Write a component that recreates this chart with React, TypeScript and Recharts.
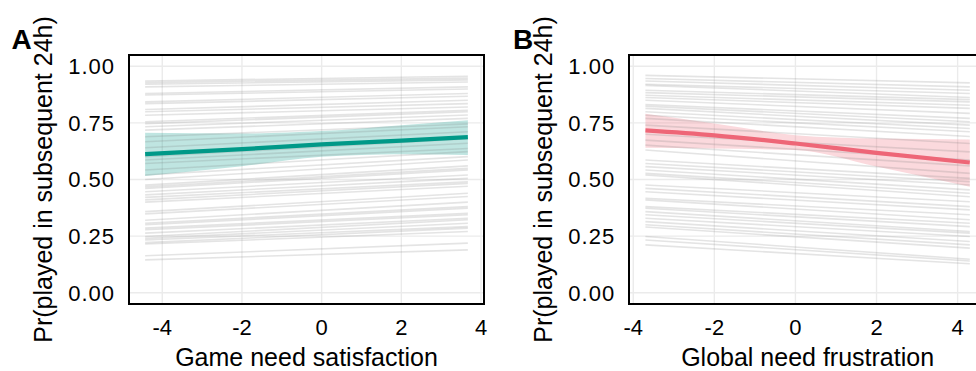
import { ComposedChart, Line, Area, XAxis, YAxis, CartesianGrid, Label } from 'recharts';

const FONT = '"Liberation Sans", Arial, Helvetica, sans-serif';

const X_TICKS = [-4, -2, 0, 2, 4];
const Y_TICKS = [0, 0.25, 0.5, 0.75, 1];

// Panel A: game need satisfaction
const satLineX = [-4.43, 3.67];
const satStart = [
  0.935, 0.928, 0.921, 0.909, 0.88, 0.873, 0.843, 0.835, 0.809, 0.799, 0.784, 0.755, 0.747, 0.733,
  0.718, 0.689, 0.667, 0.64, 0.601, 0.586, 0.571, 0.542, 0.52, 0.5, 0.475, 0.468, 0.461, 0.446,
  0.432, 0.421, 0.41, 0.4, 0.358, 0.348, 0.32, 0.307, 0.3, 0.285, 0.278, 0.263, 0.248, 0.24, 0.233,
  0.221, 0.215, 0.163, 0.145,
];
const satEnd = [
  0.956, 0.948, 0.94, 0.931, 0.909, 0.9, 0.88, 0.868, 0.85, 0.835, 0.82, 0.806, 0.799, 0.785,
  0.77, 0.745, 0.733, 0.711, 0.68, 0.66, 0.637, 0.623, 0.601, 0.586, 0.56, 0.549, 0.542, 0.52,
  0.505, 0.49, 0.483, 0.47, 0.439, 0.425, 0.4, 0.38, 0.373, 0.351, 0.344, 0.329, 0.322, 0.307,
  0.292, 0.285, 0.27, 0.219, 0.189,
];
const satFitX = [-4.43, -2, 0, 2, 3.67];
const satFit = [0.612, 0.634, 0.655, 0.672, 0.687];
const satLow = [0.515, 0.559, 0.6, 0.612, 0.608];
const satHigh = [0.706, 0.703, 0.714, 0.74, 0.762];

// Panel B: global need frustration
const fruLineX = [-3.7, 4.3];
const fruStart = [
  0.96, 0.946, 0.935, 0.921, 0.916, 0.894, 0.884, 0.872, 0.862, 0.85, 0.831, 0.824, 0.814, 0.799,
  0.784, 0.77, 0.74, 0.7, 0.674, 0.652, 0.63, 0.586, 0.571, 0.557, 0.542, 0.527, 0.52, 0.476,
  0.461, 0.446, 0.417, 0.41, 0.38, 0.373, 0.358, 0.344, 0.329, 0.314, 0.3, 0.29, 0.248, 0.233,
  0.211,
];
const fruEnd = [
  0.927, 0.909, 0.894, 0.88, 0.862, 0.853, 0.843, 0.828, 0.814, 0.792, 0.77, 0.755, 0.74, 0.725,
  0.711, 0.69, 0.659, 0.622, 0.586, 0.56, 0.527, 0.505, 0.49, 0.476, 0.454, 0.439, 0.424, 0.402,
  0.38, 0.366, 0.344, 0.322, 0.307, 0.292, 0.27, 0.263, 0.248, 0.226, 0.211, 0.197, 0.148, 0.14,
  0.128,
];
const fruFitX = [-3.7, -2, 0, 2, 4.3];
const fruFit = [0.717, 0.695, 0.659, 0.618, 0.575];
const fruLow = [0.64, 0.637, 0.63, 0.557, 0.468];
const fruHigh = [0.79, 0.747, 0.696, 0.681, 0.677];

const HEIGHT = 371;
const TOP = 55;
const PLOT_H = 249;

function Panel({ letter, xTitle, color, lineX, starts, ends, fitX, fit, low, high, domain, left, width, yAxisWidth }: any) {
  const fitData = fitX.map((x: number, i: number) => ({ x, fit: fit[i], band: [low[i], high[i]] }));
  const plotW = width - yAxisWidth - 4;
  const plotCx = yAxisWidth + plotW / 2;
  const plotCy = TOP + PLOT_H / 2;

  const YTick = ({ x, y, payload }: any) => (
    <text x={x} y={y} dy="0.36em" textAnchor="end" fontSize={22} letterSpacing={1} fill="#000" fontFamily={FONT}>
      {payload.value.toFixed(2)}
    </text>
  );
  const XTick = ({ x, y, payload }: any) => (
    <text x={x} y={y} textAnchor="middle" fontSize={22} fill="#000" fontFamily={FONT}>
      {payload.value}
    </text>
  );

  return (
    <div style={{ position: 'absolute', left, top: 0, width, height: HEIGHT }}>
      <ComposedChart width={width} height={HEIGHT} margin={{ top: TOP, right: 4, bottom: 0, left: 0 }}>
        <CartesianGrid stroke="#ebebeb" strokeWidth={1.4} />
        <XAxis
          dataKey="x"
          type="number"
          domain={domain}
          ticks={X_TICKS}
          interval={0}
          allowDataOverflow
          axisLine={false}
          tickLine={false}
          tickSize={0}
          tickMargin={31}
          height={67}
          tick={<XTick />}
        >
          <Label
            content={() => (
              <text x={plotCx} y={366} textAnchor="middle" fontSize={25} fill="#000" fontFamily={FONT}>
                {xTitle}
              </text>
            )}
          />
        </XAxis>
        <YAxis
          type="number"
          domain={[-0.05, 1.05]}
          ticks={Y_TICKS}
          interval={0}
          allowDataOverflow
          axisLine={false}
          tickLine={false}
          tickSize={0}
          tickMargin={14}
          width={yAxisWidth}
          tick={<YTick />}
        >
          <Label
            content={() => (
              <g fontFamily={FONT} fill="#000">
                <text
                  x={51.5}
                  y={plotCy}
                  transform={`rotate(-90, 51.5, ${plotCy})`}
                  textAnchor="middle"
                  fontSize={25}
                >
                  Pr(played in subsequent 24h)
                </text>
                <text x={letter === 'A' ? 11.5 : 13} y={49} fontSize={28} fontWeight="bold">
                  {letter}
                </text>
              </g>
            )}
          />
        </YAxis>
        {starts.map((s: number, i: number) => (
          <Line
            key={`p-${i}`}
            data={[
              { x: lineX[0], y: s },
              { x: lineX[1], y: ends[i] },
            ]}
            dataKey="y"
            type="linear"
            stroke="#7a7a7a"
            strokeOpacity={0.2}
            strokeWidth={1.6}
            dot={false}
            activeDot={false}
            isAnimationActive={false}
          />
        ))}
        <Area
          data={fitData}
          dataKey="band"
          type="monotone"
          fill={color}
          fillOpacity={0.25}
          stroke="none"
          isAnimationActive={false}
        />
        <Line
          data={fitData}
          dataKey="fit"
          type="monotone"
          stroke={color}
          strokeWidth={4.2}
          dot={false}
          activeDot={false}
          isAnimationActive={false}
        />
      </ComposedChart>
      <div
        style={{
          position: 'absolute',
          left: yAxisWidth - 1.35,
          top: TOP - 1.35,
          width: plotW + 2.7,
          height: PLOT_H + 2.7,
          border: '2.7px solid #000',
          boxSizing: 'border-box',
          pointerEvents: 'none',
        }}
      />
    </div>
  );
}

export default function App() {
  return (
    <div
      style={{
        position: 'absolute',
        left: 0,
        top: 0,
        width: 976,
        height: HEIGHT,
        overflow: 'hidden',
        background: '#fff',
      }}
    >
      <Panel
        letter="A"
        xTitle="Game need satisfaction"
        color="#009988"
        lineX={satLineX}
        starts={satStart}
        ends={satEnd}
        fitX={satFitX}
        fit={satFit}
        low={satLow}
        high={satHigh}
        domain={[-4.835, 4.075]}
        left={0}
        width={488}
        yAxisWidth={129}
      />
      <Panel
        letter="B"
        xTitle="Global need frustration"
        color="#EE6677"
        lineX={fruLineX}
        starts={fruStart}
        ends={fruEnd}
        fitX={fruFitX}
        fit={fruFit}
        low={fruLow}
        high={fruHigh}
        domain={[-4.1, 4.7]}
        left={500}
        width={490}
        yAxisWidth={129.2}
      />
    </div>
  );
}
